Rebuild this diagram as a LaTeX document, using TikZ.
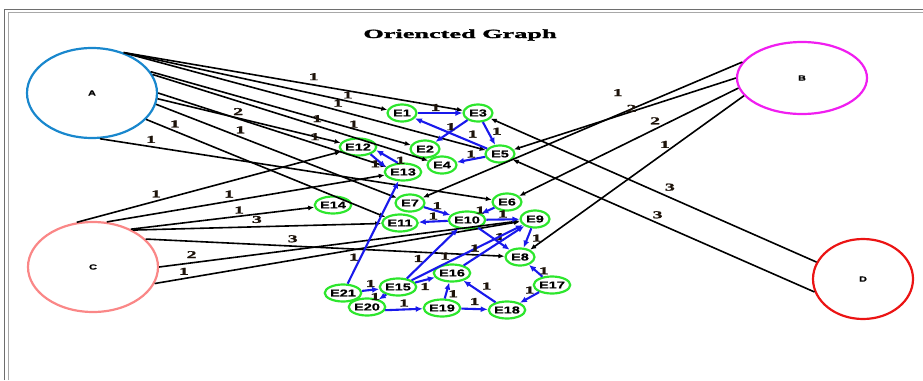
\documentclass[tikz,border=0pt]{standalone}
\usepackage{fontspec}
\newfontfamily\efont[FakeStretch=1.45, BoldFeatures={FakeBold=0.8}]{Liberation Sans}
\newfontfamily\numfont[FakeStretch=1.9, BoldFeatures={FakeBold=1.6}]{Liberation Serif}
\newfontfamily\titlefont[FakeStretch=2.1, BoldFeatures={FakeBold=2}]{Liberation Serif}
\usetikzlibrary{arrows.meta,shapes.geometric}
\usepackage{xcolor}
\definecolor{nodeA}{RGB}{25, 135, 205}
\definecolor{nodeB}{RGB}{240, 30, 240}
\definecolor{nodeC}{RGB}{250, 135, 135}
\definecolor{nodeD}{RGB}{235, 20, 20}
\definecolor{egreen}{RGB}{45, 230, 45}
\definecolor{eblue}{RGB}{25, 25, 235}
\definecolor{framegray}{RGB}{110, 110, 110}
\tikzset{
  % Big source nodes
  bignode/.style  = {ellipse, line width=2.2pt, inner sep=0pt,
                     font=\efont\bfseries\fontsize{7.5}{7.5}\selectfont},
  % Small green nodes
  enode/.style    = {ellipse, draw=egreen, line width=2.2pt, inner sep=0pt,
                     minimum width=29pt, minimum height=17pt,
                     font=\efont\bfseries\fontsize{10}{10}\selectfont},
  % Connectors
  bedge/.style    = {-{Latex[length=6pt,width=5pt]}, line width=1.6pt, black},
  uedge/.style    = {-{Latex[length=7pt,width=6pt]}, line width=2.1pt, eblue},
  % Weights
  wlab/.style     = {font=\numfont\bfseries\fontsize{10.5}{10.5}\selectfont,
                     inner sep=1pt, text=black!85!brown},
}
\begin{document}
\begin{tikzpicture}[x=1pt, y=-1pt]
  \useasboundingbox (0,0) rectangle (923,380);
  % Frame
  \draw[framegray, line width=1pt] (4.5,380) -- (4.5,9) -- (923,9);
  \draw[framegray!60, line width=1pt] (8,380) -- (8,12.5) -- (923,12.5);
  \node[font=\titlefont\bfseries\fontsize{12.5}{12.5}\selectfont] (title) at (460,35) {Oriencted Graph};
  % Source nodes
  \node[bignode, draw=nodeA, minimum width=130pt, minimum height=90pt] (A) at (92,93) {A};
  \node[bignode, draw=nodeB, minimum width=130pt, minimum height=72pt] (B) at (802,78) {B};
  \node[bignode, draw=nodeC, minimum width=130pt, minimum height=90pt] (C) at (93,267) {C};
  \node[bignode, draw=nodeD, minimum width=100pt, minimum height=80pt] (D) at (863,279) {D};
  % Inner nodes
  \node[enode] (E1)  at (402,113) {E1};
  \node[enode] (E3)  at (478,113) {E3};
  \node[enode] (E12) at (358,147) {E12};
  \node[enode] (E2)  at (425,149) {E2};
  \node[enode] (E4)  at (442,165) {E4};
  \node[enode] (E5)  at (500,154) {E5};
  \node[enode] (E13) at (403,172) {E13};
  \node[enode] (E7)  at (410,203) {E7};
  \node[enode] (E14) at (333,205) {E14};
  \node[enode] (E6)  at (507,202) {E6};
  \node[enode] (E11) at (400,223) {E11};
  \node[enode] (E10) at (467,220) {E10};
  \node[enode] (E9)  at (535,219) {E9};
  \node[enode] (E8)  at (520,257) {E8};
  \node[enode] (E16) at (452,273) {E16};
  \node[enode] (E17) at (552,285) {E17};
  \node[enode] (E21) at (343,293) {E21};
  \node[enode] (E15) at (398,287) {E15};
  \node[enode] (E20) at (367,307) {E20};
  \node[enode] (E19) at (442,308) {E19};
  \node[enode] (E18) at (507,310) {E18};
  % Edges from A
  \draw[bedge] (A.52) -- node[wlab, pos=0.56, above=3pt] {1} (E3);
  \draw[bedge] (A.52) -- node[wlab, pos=0.85, above=1pt] {1} (E1);
  \draw[bedge] (A.50) -- node[wlab, pos=0.59, above=2pt] {1} (E5);
  \draw[bedge] (A.0)  -- node[wlab, pos=0.35, above=2pt] {2} (E13);
  \draw[bedge] (A.20) -- node[wlab, pos=0.64] {1} (E2);
  \draw[bedge] (A.17) -- node[wlab, pos=0.73, above=8pt] {1} (E4);
  \draw[bedge] (A.-26) -- node[wlab, pos=0.12, above=2pt] {1} (E11);
  \draw[bedge] (A.-10) -- node[wlab, pos=0.35, above=2pt] {1} (E7);
  \draw[bedge] (A.-5) -- node[wlab, pos=0.86] {1} (E12);
  \draw[bedge] (A.-80) -- node[wlab, pos=0.13, above=2pt] {1} (E6);
  % Edges from B
  \draw[bedge] (B.165) -- node[wlab, pos=0.39, above=17pt] {1} (E7);
  \draw[bedge] (B.180) -- node[wlab, pos=0.47, above=-2pt] {2} (E5);
  \draw[bedge] (B.189) -- node[wlab, pos=0.38, above=3pt] {2} (E6);
  \draw[bedge] (B.197) -- node[wlab, pos=0.37, above=3pt] {1} (E8);
  % Edges from C
  \draw[bedge] (C.110) -- node[wlab, pos=0.30, above=2pt] {1} (E12);
  \draw[bedge] (C.73)  -- node[wlab, pos=0.44, above=2pt] {1} (E13);
  \draw[bedge] (C.45)  -- node[wlab, pos=0.59, above=1pt] {1} (E14);
  \draw[bedge] (C.43)  -- node[wlab, pos=0.50, above=2pt] {3} (E11);
  \draw[bedge] (C.28)  -- node[wlab, pos=0.41, above=2pt] {3} (E8);
  \draw[bedge] (C.0)   -- node[wlab, pos=0.09, above=3pt] {2} (E9);
  \draw[bedge] (C.-15) -- node[wlab, pos=0.08, above=2pt] {1} (E9);
  % Edges from D
  \draw[bedge] (D.160) -- node[wlab, pos=0.45, above=5pt] {3} (E3);
  \draw[bedge] (D.195) -- node[wlab, pos=0.52, above=3pt] {3} (E5);
  % Inner edges
  \draw[uedge] (E1) -- node[wlab, pos=0.4, above] {1} (E3);
  \draw[uedge] (E5) -- node[wlab, pos=0.2, above=3pt] {1} (E1);
  \draw[uedge] (E3) -- node[wlab, pos=0.3, left] {1} (E2);
  \draw[uedge] (E3) -- node[wlab, pos=0.4, right=2pt] {1} (E5);
  \draw[uedge] (E5) -- node[wlab, above] {1} (E4);
  \draw[uedge] (E12.-30) -- node[wlab, pos=0.3, below] {1} (E13.165);
  \draw[uedge] (E13.120) -- node[wlab, pos=0.2, right] {1} (E12.-10);
  \draw[uedge] (E21) -- node[wlab, pos=0.26, left] {1} (E13);
  \draw[uedge] (E7) -- node[wlab, above] {1} (E10);
  \draw[uedge] (E6) -- node[wlab, pos=0.4, left=2pt] {1} (E10);
  \draw[uedge] (E10) -- node[wlab, above] {1} (E11);
  \draw[uedge] (E10) -- node[wlab, above] {1} (E9);
  \draw[uedge] (E10) -- node[wlab, pos=0.4, right=2pt] {1} (E8);
  \draw[uedge] (E9) -- node[wlab, right=2pt] {1} (E8);
  \draw[uedge] (E15) -- node[wlab, pos=0.4, left=2pt] {1} (E10);
  \draw[uedge] (E15) -- node[wlab, pos=0.3, above=2pt] {1} (E9);
  \draw[uedge] (E16) -- node[wlab, pos=0.3, above left] {1} (E9);
  \draw[uedge] (E17) -- node[wlab, right=1pt] {1} (E8);
  \draw[uedge] (E17) -- node[wlab, above=2pt] {1} (E18);
  \draw[uedge] (E18) -- node[wlab, above right] {1} (E16);
  \draw[uedge] (E19) -- node[wlab, pos=0.3, right] {1} (E16);
  \draw[uedge] (E19) -- node[wlab, above=2pt] {1} (E18);
  \draw[uedge] (E20.-10) -- node[wlab, above=1pt] {1} (E19);
  \draw[uedge] (E21) -- node[wlab, above=1pt] {1} (E15);
  \draw[uedge] (E15) -- node[wlab, pos=0.4, left=1pt] {1} (E20);
  \draw[uedge] (E15) -- node[wlab, below=1pt] {1} (E16);
\end{tikzpicture}
\end{document}
